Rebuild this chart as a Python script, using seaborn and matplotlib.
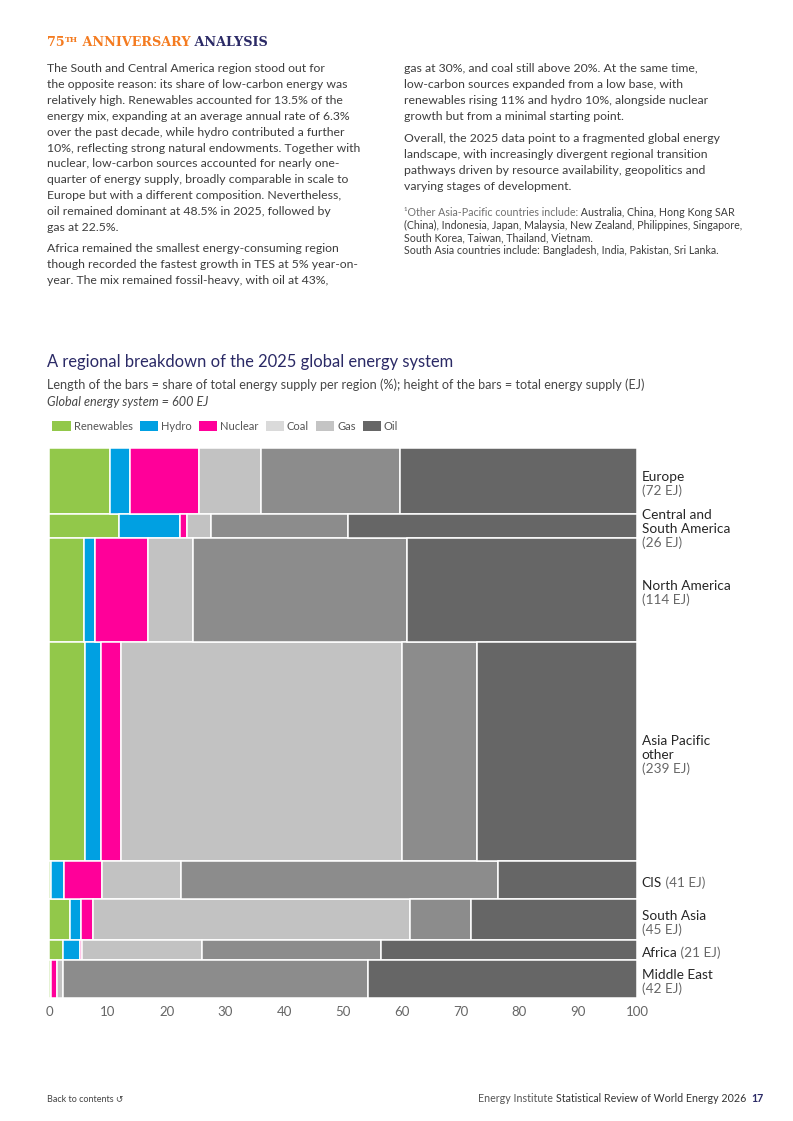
import matplotlib

matplotlib.use("Agg")

import matplotlib.pyplot as plt
import numpy as np
import seaborn as sns
from matplotlib.patches import Patch

# ------------------------------------------------------------
# data
# ------------------------------------------------------------
regions = [
    "Europe",
    "Central and\nSouth America",
    "North America",
    "Asia Pacific\nother",
    "CIS",
    "South Asia",
    "Africa",
    "Middle East",
]
supply_ej = [72, 26, 114, 239, 41, 45, 21, 42]

sources = ["Renewables", "Hydro", "Nuclear", "Coal", "Gas", "Oil"]
renewables = [10.3, 11.9, 5.9, 6.1, 0.3, 3.6, 2.3, 0.3]
hydro = [3.4, 10.3, 1.9, 2.7, 2.3, 1.9, 3.0, 0.1]
nuclear = [11.8, 1.2, 9.0, 3.5, 6.4, 2.0, 0.3, 1.0]
coal = [10.6, 4.1, 7.7, 47.8, 13.5, 53.9, 20.5, 1.0]
gas = [23.6, 23.4, 36.4, 12.7, 53.9, 10.3, 30.3, 51.9]
oil = [40.3, 49.1, 39.1, 27.2, 23.6, 28.3, 43.6, 45.7]

x_ticks = [0, 10, 20, 30, 40, 50, 60, 70, 80, 90, 100]

bar_colors = ["#92c84a", "#00a0e2", "#ff0099", "#c2c2c2", "#8c8c8c", "#666666"]
legend_colors = ["#92c84a", "#00a0e2", "#ff0099", "#dadada", "#c4c4c4", "#666666"]

NAVY = "#2b2a66"
ORANGE = "#f47b20"
BODY = "#3d3d3d"

# ------------------------------------------------------------
# page text
# ------------------------------------------------------------
left_par1 = [
    "The South and Central America region stood out for",
    "the opposite reason: its share of low-carbon energy was",
    "relatively high. Renewables accounted for 13.5% of the",
    "energy mix, expanding at an average annual rate of 6.3%",
    "over the past decade, while hydro contributed a further",
    "10%, reflecting strong natural endowments. Together with",
    "nuclear, low-carbon sources accounted for nearly one-",
    "quarter of energy supply, broadly comparable in scale to",
    "Europe but with a different composition. Nevertheless,",
    "oil remained dominant at 48.5% in 2025, followed by",
    "gas at 22.5%.",
]
left_par2 = [
    "Africa remained the smallest energy-consuming region",
    "though recorded the fastest growth in TES at 5% year-on-",
    "year. The mix remained fossil-heavy, with oil at 43%,",
]
right_par1 = [
    "gas at 30%, and coal still above 20%. At the same time,",
    "low-carbon sources expanded from a low base, with",
    "renewables rising 11% and hydro 10%, alongside nuclear",
    "growth but from a minimal starting point.",
]
right_par2 = [
    "Overall, the 2025 data point to a fragmented global energy",
    "landscape, with increasingly divergent regional transition",
    "pathways driven by resource availability, geopolitics and",
    "varying stages of development.",
]

sns.set_theme(style="white")
plt.rcParams["font.family"] = ["Lato", "DejaVu Sans"]

W, H = 793, 1121
fig = plt.figure(figsize=(W / 100, H / 100), dpi=100)


def fx(x):
    return x / W


def fy(y):
    return 1 - y / H


def lines_at(lines, x, y0, step, **kw):
    for i, line in enumerate(lines):
        fig.text(fx(x), fy(y0 + i * step), line, va="baseline", **kw)


def after(t, s, dy=0, **kw):
    # put text s right after text artist t, on the same baseline
    return fig.axes[0].annotate(
        s, xy=(1, 0), xycoords=t, xytext=(0, dy), textcoords="offset points",
        va="bottom", ha="left", annotation_clip=False, **kw)


# ------------------------------------------------------------
# chart
# ------------------------------------------------------------
ax = fig.add_axes([fx(49), fy(998), fx(637) - fx(49), fy(448) - fy(998)])
ax.patch.set_alpha(0)

tops = np.concatenate([[0], np.cumsum(supply_ej)[:-1]])
left = np.zeros(len(regions))
for name, vals, col in zip(sources, [renewables, hydro, nuclear, coal, gas, oil], bar_colors):
    ax.barh(tops, vals, height=supply_ej, left=left, align="edge",
            color=col, edgecolor="white", linewidth=1.1, label=name)
    left += np.array(vals)

ax.set_xlim(0, 100)
ax.set_ylim(sum(supply_ej), 0)
ax.set_yticks([])
ax.set_xticks(x_ticks)
ax.set_xticklabels([str(v) for v in x_ticks])
ax.tick_params(axis="x", length=0, labelsize=9.5, labelcolor="#666666", pad=6)
sns.despine(ax=ax, left=True, bottom=True)

# region labels on the right
step = 15.0
inline = ["CIS", "Africa"]
for lab, ej, top in zip(regions, supply_ej, tops):
    mid = top + ej / 2 + 3
    if lab in inline:
        t = ax.text(100.8, mid, lab, va="center", ha="left", fontsize=9.8,
                    color="#262626", clip_on=False)
        after(t, f" ({ej} EJ)", fontsize=9.8, color="#666666")
        continue
    lines = lab.split("\n") + [f"({ej} EJ)"]
    n = len(lines)
    for i, line in enumerate(lines):
        last = i == n - 1
        ax.text(100.8, mid + (i - (n - 1) / 2) * step, line, va="center",
                ha="left", fontsize=9.8, clip_on=False,
                color="#666666" if last else "#262626")

# legend
handles = [Patch(facecolor=c, edgecolor="none", label=s)
           for s, c in zip(sources, legend_colors)]
leg = fig.legend(handles=handles, loc="center left",
                 bbox_to_anchor=(fx(52.5), fy(426.5)), ncol=6, frameon=False,
                 fontsize=8, handlelength=1.65, handleheight=1.05,
                 handletextpad=0.25, columnspacing=0.65, borderpad=0,
                 borderaxespad=0)
for t in leg.get_texts():
    t.set_color("#555555")

# ------------------------------------------------------------
# titles and page text
# ------------------------------------------------------------
fig.text(fx(47), fy(367.5), "A regional breakdown of the 2025 global energy system",
         fontsize=11.9, color=NAVY, va="baseline")
fig.text(fx(47), fy(389), "Length of the bars = share of total energy supply per region (%); "
         "height of the bars = total energy supply (EJ)",
         fontsize=9.1, color="#474747", va="baseline")
fig.text(fx(47), fy(406), "Global energy system = 600 EJ", fontsize=9.1,
         color="#474747", style="italic", va="baseline")

# header
hdr = dict(family="DejaVu Serif", weight="bold")
t = fig.text(fx(47), fy(46), "75", fontsize=9.2, color=ORANGE, va="baseline", **hdr)
t = after(t, "TH", dy=3.5, fontsize=5.6, color=ORANGE, **hdr)
t = after(t, " ANNIVERSARY", dy=-3.5, fontsize=9.2, color=ORANGE, **hdr)
after(t, " ANALYSIS", fontsize=9.2, color=NAVY, **hdr)

body = dict(fontsize=8.8, color=BODY)
lines_at(left_par1, 47, 72, 15.9, **body)
lines_at(left_par2, 47, 252, 15.9, **body)
lines_at(right_par1, 404, 72, 15.9, **body)
lines_at(right_par2, 404, 142, 15.9, **body)

# footnote
fn = dict(fontsize=7.7)
t = fig.text(fx(404), fy(216.5), "\u00b9Other Asia-Pacific countries include:",
             va="baseline", color="#707070", **fn)
after(t, " Australia, China, Hong Kong SAR", color="#3d3d3d", **fn)
fig.text(fx(404), fy(229), "(China), Indonesia, Japan, Malaysia, New Zealand, Philippines, Singapore,",
         va="baseline", color="#3d3d3d", **fn)
fig.text(fx(404), fy(241.5), "South Korea, Taiwan, Thailand, Vietnam.",
         va="baseline", color="#3d3d3d", **fn)
t = fig.text(fx(404), fy(254), "South Asia countries include:", va="baseline",
             color="#3d3d3d", **fn)
after(t, " Bangladesh, India, Pakistan, Sri Lanka.", color="#3d3d3d", **fn)

# footer
fig.text(fx(47), fy(1102), "Back to contents \u21ba", fontsize=6.5, color="#444444",
         va="baseline")
t = fig.text(fx(764), fy(1102), "17", fontsize=7.7, color=NAVY, weight="bold",
             ha="right", va="baseline")
t = fig.axes[0].annotate("Statistical Review of World Energy 2026  ", xy=(0, 0),
                         xycoords=t, va="bottom", ha="right", fontsize=7.7,
                         color="#333333", annotation_clip=False)
fig.axes[0].annotate("Energy Institute ", xy=(0, 0), xycoords=t, va="bottom",
                     ha="right", fontsize=7.7, color="#555555",
                     annotation_clip=False)

fig.savefig("out.png", dpi=100)
